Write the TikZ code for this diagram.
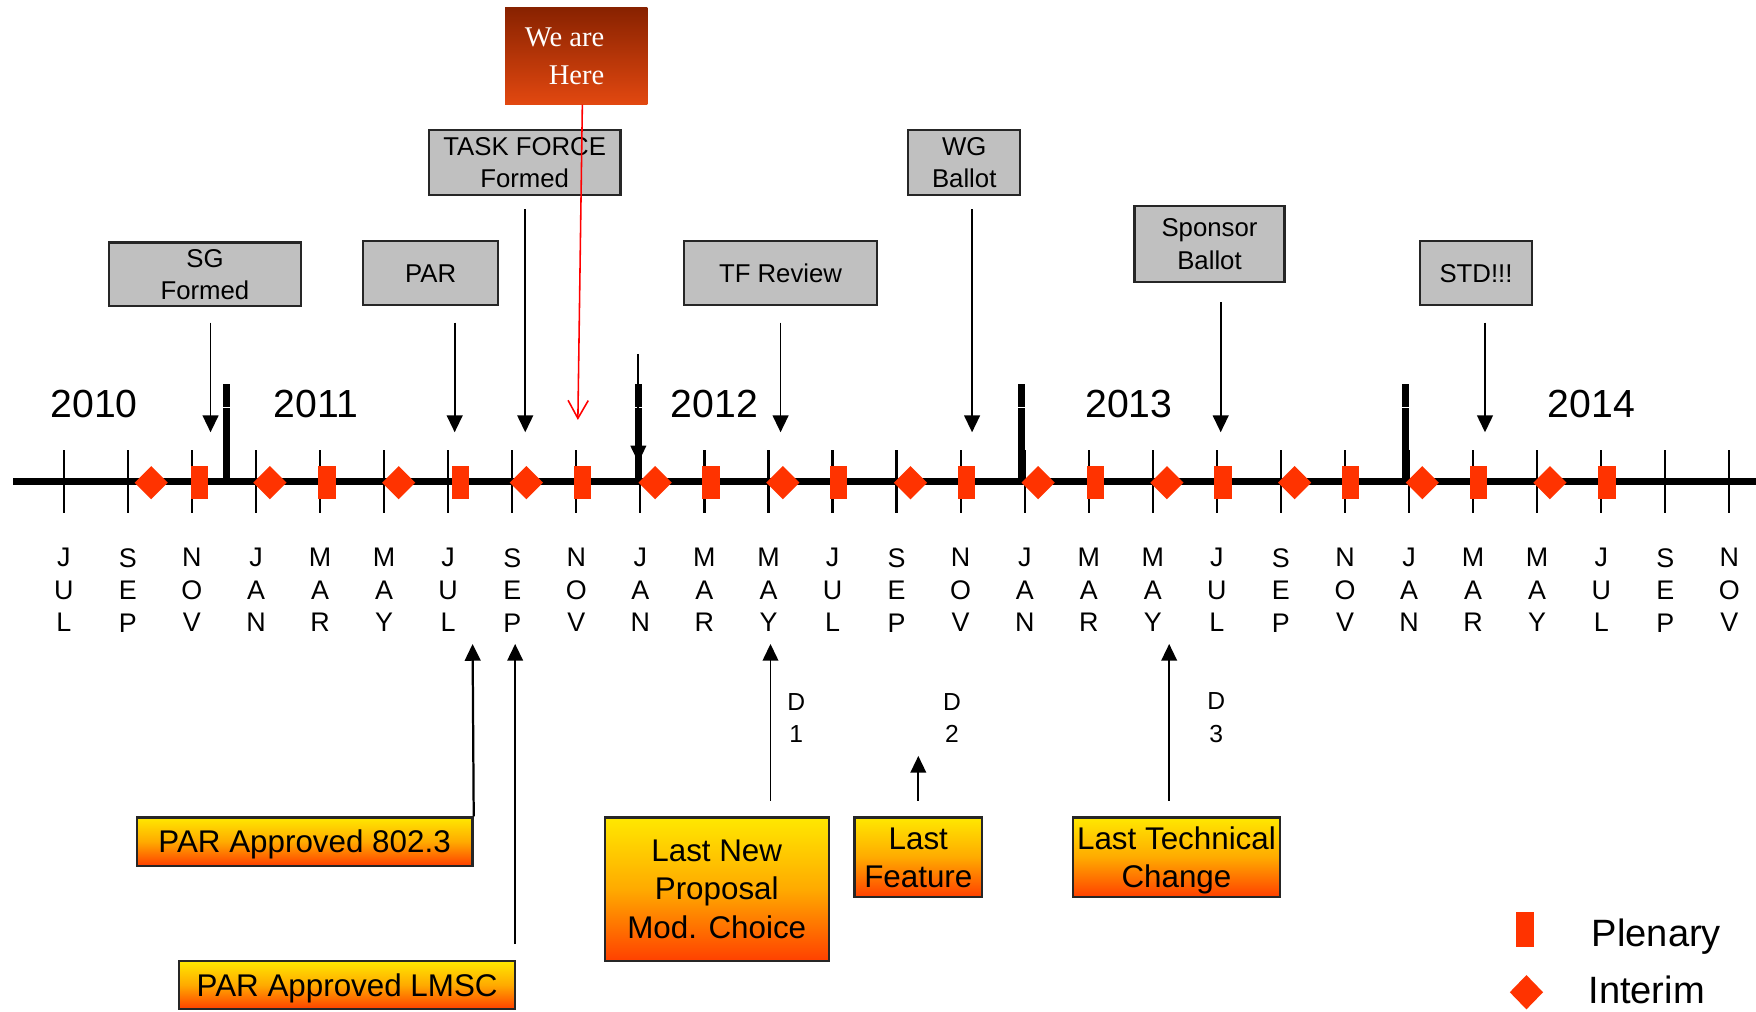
\documentclass[tikz,border=0pt]{standalone}
\usepackage{fontspec}
\setmainfont{Liberation Sans}
\newfontfamily\serifhere{Liberation Serif}
\usetikzlibrary{arrows.meta,shapes.geometric}
\definecolor{mred}{RGB}{255,51,0}
\definecolor{gbox}{RGB}{192,192,192}
\definecolor{gline}{RGB}{38,38,38}
\definecolor{ytop}{RGB}{255,232,0}
\definecolor{ymid}{RGB}{255,170,0}
\definecolor{ybot}{RGB}{255,64,0}
\definecolor{htop}{RGB}{136,34,0}
\definecolor{hbot}{RGB}{226,72,16}
\begin{document}
\begin{tikzpicture}[x=0.5pt,y=-0.5pt,
  graybox/.style={draw=gline,line width=1pt,fill=gbox,inner sep=0pt,align=center,font=\fontsize{11.5}{14.5}\selectfont},
  gradbox/.style={draw=gline,line width=1pt,top color=ytop,bottom color=ybot,middle color=ymid,inner sep=0pt,align=center,text depth=0pt,font=\fontsize{14}{17}\selectfont},
  arr/.style={line width=0.8pt,-{Triangle[width=7pt,length=7.5pt]}},
  redarr/.style={draw=red,line width=0.7pt,-{Straight Barb[width=9pt,length=8pt]}},
  plen/.style={fill=mred,inner sep=0pt,minimum width=7.75pt,minimum height=15pt},
  intr/.style={diamond,fill=mred,inner sep=0pt,minimum width=15pt,minimum height=15pt},
  month/.style={align=center,inner sep=0pt,font=\fontsize{12}{14.5}\selectfont},
  dlbl/.style={align=center,inner sep=0pt,font=\fontsize{11}{14.5}\selectfont},
  yearlbl/.style={inner sep=0pt,anchor=base,font=\fontsize{17.5}{20}\selectfont},
  legend/.style={inner sep=0pt,anchor=base west,font=\fontsize{17}{20}\selectfont},
  yearbar/.style={line width=3.25pt}
]
\useasboundingbox (0,0) rectangle (1568,903);

% axis
\draw[line width=3.5pt] (12,430) -- (1568,430);

% ticks and month labels
\foreach \a/\b/\c [count=\i from 0] in {J/U/L,S/E/P,N/O/V,J/A/N,M/A/R,M/A/Y,J/U/L,S/E/P,N/O/V,J/A/N,M/A/R,M/A/Y,J/U/L,S/E/P,N/O/V,J/A/N,M/A/R,M/A/Y,J/U/L,S/E/P,N/O/V,J/A/N,M/A/R,M/A/Y,J/U/L,S/E/P,N/O/V} {
  \draw[line width=1pt] ({57+\i*57.2},402) -- ({57+\i*57.2},458);
  \node[month] (m\i) at ({57+\i*57.2},527) {\a\\\b\\\c};
}

% year bars
\foreach \x in {202,570,912,1255} {
  \draw[yearbar] (\x,343) -- (\x,430);
  \draw[white,line width=0.5pt] (\x-3.5,364) -- (\x+3.5,364);
}

% year labels
\node[yearlbl] (y2010) at (84,373) {2010};
\node[yearlbl] (y2011) at (282,373) {2011};
\node[yearlbl] (y2012) at (638,373) {2012};
\node[yearlbl] (y2013) at (1008,373) {2013};
\node[yearlbl] (y2014) at (1421,373) {2014};

% plenary and interim markers
\foreach \x [count=\k] in {178,292,411,520,635,749,863,978,1092,1206,1320,1435}
  \node[plen] (p\k) at (\x,431) {};
\foreach \x [count=\k] in {135,241,356,470,585,699,813,927,1042,1156,1270,1384}
  \node[intr] (i\k) at (\x,431) {};

% upper boxes
\node[graybox,minimum width=86pt,minimum height=28.5pt] (sg) at (183,245) {SG\\Formed};
\node[graybox,minimum width=60.5pt,minimum height=28.5pt] (par) at (384.5,244) {PAR};
\node[graybox,minimum width=85.5pt,minimum height=29pt] (tf) at (468.5,145) {TASK FORCE\\Formed};
\node[graybox,minimum width=86pt,minimum height=28.5pt] (tfr) at (697,244) {TF Review};
\node[graybox,minimum width=50pt,minimum height=29pt] (wg) at (861,145) {WG\\Ballot};
\node[graybox,minimum width=67pt,minimum height=34pt] (sp) at (1080,218) {Sponsor\\Ballot};
\node[graybox,minimum width=50pt,minimum height=28.5pt] (std) at (1318,244) {STD!!!};

% arrow end points
\coordinate (sgA) at (188,288);   \coordinate (sgB) at (188,386);
\coordinate (parA) at (406,288);  \coordinate (parB) at (406,386);
\coordinate (tfA) at (469,187);   \coordinate (tfB) at (469,386);
\coordinate (tfrA) at (697,288);  \coordinate (tfrB) at (697,386);
\coordinate (wgA) at (868,187);   \coordinate (wgB) at (868,386);
\coordinate (spA) at (1090,270);  \coordinate (spB) at (1090,386);
\coordinate (stdA) at (1326,288); \coordinate (stdB) at (1326,386);
\coordinate (janA) at (570,316);  \coordinate (janB) at (570,413);

\draw[arr] (sgA) -- (sgB);
\draw[arr] (parA) -- (parB);
\draw[arr] (tfA) -- (tfB);
\draw[arr] (tfrA) -- (tfrB);
\draw[arr] (wgA) -- (wgB);
\draw[arr] (spA) -- (spB);
\draw[arr] (stdA) -- (stdB);
\draw[arr] (janA) -- (janB);

% we are here
\node[top color=htop,bottom color=hbot,minimum width=63.5pt,minimum height=43pt,inner sep=0pt] (here) at (514.5,50) {};
\node[inner sep=0pt,anchor=east,align=right,text=white,font=\serifhere\fontsize{12.75}{17}\selectfont] (heretxt) at (540,50) {We are\\Here};
\coordinate (hereTip) at (516,375);
\draw[redarr] ([xshift=2.75pt]here.south) -- (hereTip);

% lower boxes
\node[gradbox,minimum width=150pt,minimum height=21.5pt] (p8023) at (272,751.5) {PAR Approved 802.3};
\node[gradbox,minimum width=150pt,minimum height=21.5pt] (lmsc) at (310,879.5) {PAR Approved LMSC};
\node[gradbox,minimum width=100pt,minimum height=64pt] (lnp) at (640,794) {Last New\\Proposal\\Mod. Choice};
\node[gradbox,minimum width=57pt,minimum height=35.5pt] (lf) at (820,765.5) {Last\\Feature};
\node[gradbox,minimum width=92.5pt,minimum height=35.5pt] (ltc) at (1050.5,765.5) {Last Technical\\Change};

\coordinate (p8023T) at (422,575);
\coordinate (lmscA) at (460,843); \coordinate (lmscT) at (460,575);
\coordinate (lnpA) at (688,715);  \coordinate (lnpT) at (688,575);
\coordinate (lfA) at (820,715);   \coordinate (lfT) at (820,675);
\coordinate (ltcA) at (1044,715); \coordinate (ltcT) at (1044,575);

\draw[arr,line width=1pt] (p8023.north east) -- (p8023T);
\draw[arr] (lmscA) -- (lmscT);
\draw[arr] (lnpA) -- (lnpT);
\draw[arr] (lfA) -- (lfT);
\draw[arr] (ltcA) -- (ltcT);

% D labels
\node[dlbl] (d1) at (711,641) {D\\1};
\node[dlbl] (d2) at (850,641) {D\\2};
\node[dlbl] (d3) at (1086,641) {D\\3};

% legend
\node[plen,minimum width=8pt,minimum height=15.5pt] (legp) at (1361.5,830) {};
\node[legend] (legpt) at (1421,845) {Plenary};
\node[intr,minimum height=15.5pt] (legi) at (1363,886) {};
\node[legend] (legit) at (1418,896) {Interim};
\end{tikzpicture}
\end{document}
